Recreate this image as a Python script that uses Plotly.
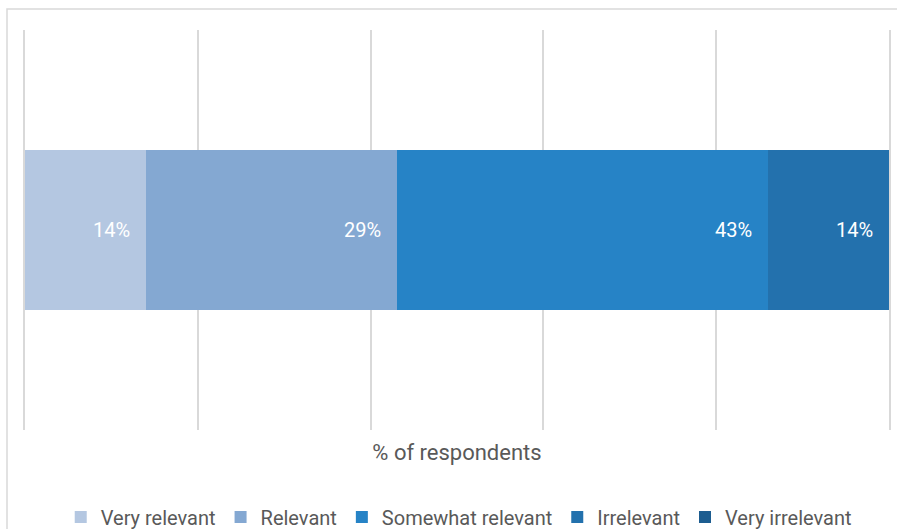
import plotly.graph_objects as go

# Survey responses (% of respondents)
categories = ["Very relevant", "Relevant", "Somewhat relevant", "Irrelevant", "Very irrelevant"]
shares = [14, 29, 43, 14, 0]
colors = ["#b4c7e1", "#84a8d2", "#2683c6", "#2371ad", "#1d5d90"]
row_label = ["% of respondents"]

FONT = "Roboto, Lato, sans-serif"
GREY = "#595959"

fig = go.Figure()
for name, val, col in zip(categories, shares, colors):
    fig.add_trace(go.Bar(
        name=name,
        x=[val],
        y=row_label,
        orientation="h",
        marker=dict(color=col, line=dict(width=0)),
        hovertemplate=f"{name}: %{{x}}%<extra></extra>",
    ))

# Value labels sit just inside the right end of each segment
running = 0
for val in shares:
    running += val
    if val <= 0:
        continue
    fig.add_annotation(
        x=running, y=row_label[0], xref="x", yref="y",
        text=f"{val}%", showarrow=False,
        xanchor="right", yanchor="middle", xshift=-14,
        font=dict(color="white", size=20, family=FONT),
    )

fig.update_layout(
    barmode="stack",
    bargap=0.6,
    width=897,
    height=529,
    margin=dict(l=25, r=8, t=30, b=99, autoexpand=False),
    paper_bgcolor="white",
    plot_bgcolor="white",
    font=dict(family=FONT, color=GREY),
    showlegend=True,
    legend=dict(
        orientation="h",
        x=0.502, xanchor="center",
        y=-0.2175, yanchor="middle",
        font=dict(size=20, color=GREY, family=FONT),
        traceorder="normal",
        itemwidth=30,
    ),
    xaxis=dict(
        range=[0, 100],
        dtick=20,
        showgrid=True,
        gridcolor="#d9d9d9",
        gridwidth=1.5,
        zeroline=False,
        showline=False,
        showticklabels=False,
        ticks="",
        automargin=False,
        title=dict(text="% of respondents", standoff=14,
                   font=dict(size=22, color=GREY, family=FONT)),
    ),
    yaxis=dict(
        showticklabels=False,
        showgrid=False,
        zeroline=False,
        ticks="",
        showline=True,
        mirror=True,
        linecolor="#d9d9d9",
        linewidth=1.5,
        automargin=False,
    ),
    shapes=[dict(
        type="rect", xref="paper", yref="paper",
        x0=(7 - 25) / 864, x1=1.2,
        y0=-0.5, y1=(430 - 9) / 400,
        line=dict(color="#d9d9d9", width=1.5),
        fillcolor="rgba(0,0,0,0)",
        layer="below",
    )],
)

fig.write_html("out.html")
